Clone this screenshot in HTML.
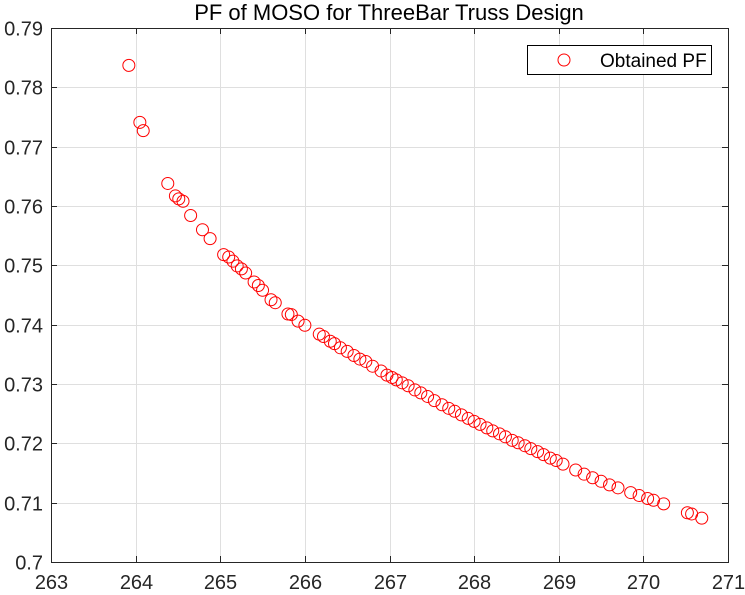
<!DOCTYPE html>
<html><head><meta charset="utf-8"><style>
body{margin:0;background:#fff;}
svg{display:block;font-family:"Liberation Sans",sans-serif;}
</style></head><body>
<svg id="chart" width="745" height="595">
<rect x="0" y="0" width="745" height="595" fill="#fff"/>
<g id="grid"></g>
<g id="axes"></g>
<g id="points"></g>
<text x="389" y="20" text-anchor="middle" font-size="22" fill="#000">PF of MOSO for ThreeBar Truss Design</text>
<g>
<rect x="527.5" y="45.5" width="184" height="29" fill="#fff" stroke="#000" stroke-width="1"/>
<circle cx="564" cy="60" r="6" fill="none" stroke="#f00" stroke-width="1"/>
<text x="600" y="67" font-size="19" fill="#000">Obtained PF</text>
</g>
</svg>
<script>
const xTicks=[263,264,265,266,267,268,269,270,271];
const yTicks=[0.7,0.71,0.72,0.73,0.74,0.75,0.76,0.77,0.78,0.79];
const xVals=[263.92,264.05,264.09,264.38,264.47,264.51,264.56,264.65,264.79,264.88,265.04,265.10,265.15,265.20,265.25,265.30,265.40,265.45,265.50,265.60,265.65,265.80,265.84,265.92,266.00,266.17,266.22,266.30,266.35,266.42,266.50,266.58,266.65,266.72,266.80,266.90,266.97,267.03,267.08,267.15,267.22,267.30,267.37,267.45,267.53,267.62,267.70,267.77,267.85,267.93,268.00,268.07,268.15,268.22,268.30,268.37,268.45,268.52,268.60,268.67,268.75,268.82,268.90,268.97,269.05,269.20,269.30,269.40,269.50,269.60,269.70,269.85,269.95,270.05,270.12,270.24,270.52,270.57,270.69];
const yVals=[0.7837,0.7741,0.7727,0.7638,0.7617,0.7612,0.7608,0.7584,0.7560,0.7545,0.7518,0.7514,0.7507,0.7499,0.7494,0.7487,0.7472,0.7466,0.7458,0.7442,0.7437,0.7418,0.7417,0.7406,0.7399,0.7384,0.7380,0.7372,0.7368,0.7361,0.7355,0.7348,0.7342,0.7338,0.7330,0.7322,0.7315,0.7311,0.7307,0.7302,0.7297,0.7290,0.7285,0.7279,0.7272,0.7265,0.7259,0.7254,0.7248,0.7242,0.7237,0.7232,0.7226,0.7221,0.7216,0.7211,0.7205,0.7201,0.7196,0.7191,0.7186,0.7181,0.7175,0.7171,0.7165,0.7155,0.7148,0.7142,0.7136,0.7130,0.7125,0.7117,0.7112,0.7107,0.7104,0.7098,0.7083,0.7081,0.7074];
const L=51,R=728,T=28,B=562,xMin=263,xMax=271,yMin=0.7,yMax=0.79;
const sx=v=>L+(v-xMin)/(xMax-xMin)*(R-L);
const sy=v=>B-(v-yMin)/(yMax-yMin)*(B-T);
const NS="http://www.w3.org/2000/svg";
function mk(tag,attrs,parent){const e=document.createElementNS(NS,tag);for(const k in attrs)e.setAttribute(k,attrs[k]);parent.appendChild(e);return e;}
const grid=document.getElementById('grid'),axes=document.getElementById('axes'),pts=document.getElementById('points');
xTicks.forEach(t=>{const x=Math.round(sx(t))+0.5;
 const g=mk('line',{x1:x,x2:x,y1:T,y2:B,stroke:'#dfdfdf','stroke-width':1},grid);
 
 
 mk('line',{x1:x,x2:x,y1:B,y2:B-6,stroke:'#262626'},axes);
 mk('line',{x1:x,x2:x,y1:T,y2:T+6,stroke:'#262626'},axes);
 const tx=mk('text',{x:x,y:B+27,'text-anchor':'middle','font-size':'20',fill:'#262626'},axes);tx.textContent=t;
 
 
});
yTicks.forEach(t=>{const y=Math.round(sy(t))+0.5;
 const g=mk('line',{x1:L,x2:R,y1:y,y2:y,stroke:'#dfdfdf','stroke-width':1},grid);
 
 
 mk('line',{x1:L,x2:L+6,y1:y,y2:y,stroke:'#262626'},axes);
 mk('line',{x1:R,x2:R-6,y1:y,y2:y,stroke:'#262626'},axes);
 const tx=mk('text',{x:L-8,y:y+7,'text-anchor':'end','font-size':'20',fill:'#262626'},axes);tx.textContent=String(t);
 
 
});
const box=mk('rect',{x:L+0.5,y:T+0.5,width:R-L,height:B-T,fill:'none',stroke:'#262626','stroke-width':1},axes);


xVals.forEach((v,i)=>{
 const c=mk('circle',{cx:sx(v),cy:sy(yVals[i]),r:6,fill:'none',stroke:'#f00','stroke-width':1},pts);
 
 
});
</script>
</body></html>
